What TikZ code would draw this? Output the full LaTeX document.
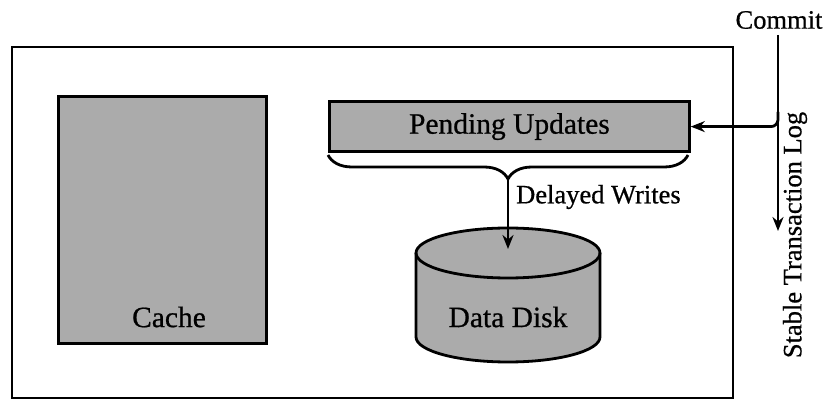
\documentclass[tikz,border=0pt]{standalone}
\usepackage{fontspec}
\setmainfont{Liberation Serif}[FakeBold=0.7]
\usetikzlibrary{arrows.meta,decorations.pathreplacing}
\begin{document}
\begin{tikzpicture}[x=1pt,y=1pt,
  font=\fontsize{26.5}{30}\selectfont,
  boxfont/.style={font=\fontsize{29.5}{33}\selectfont},
  shaded/.style={draw=black,line width=2.8pt,fill=black!33},
  conn/.style={line width=2.8pt},
  arr/.style={conn,-{Stealth[length=14pt,width=11pt]}},
  lbl/.style={inner sep=0pt}]
\useasboundingbox (0,0) rectangle (827,407);

% system frame
\draw[line width=2.4pt] (12,9) rectangle (733,360);

% cache
\node[shaded,minimum width=208,minimum height=247,anchor=south west] (cache) at (57,62) {};
\node[lbl,boxfont] (cachetxt) at (169,90) {Cache};

% pending updates
\node[shaded,minimum width=360,minimum height=50,anchor=south west] (pending) at (328,254) {};
\node[lbl,boxfont] (pendtxt) at (pending.center) {Pending Updates};

% brace under pending updates
\coordinate (bl) at (328,252);
\coordinate (bra) at (688,252);
\draw[conn,decorate,decoration={brace,mirror,amplitude=24pt,raise=0pt}] (bl) -- (bra);
\coordinate (tip) at (508,228);
\node[lbl,anchor=west] (dw) at (516,210) {Delayed Writes};

% data disk
\path[shaded] (416,154) -- (416,70) arc (180:360:92 and 25) -- (600,154) arc (0:180:92 and 25) -- cycle;
\draw[conn] (416,154) arc (180:360:92 and 25);
\node[lbl,boxfont] (disk) at (508,90) {Data Disk};
\coordinate (disktop) at (508,158);
\draw[arr] (tip) -- (disktop);

% commit and stable log
\node[lbl] (commit) at (779,387) {Commit};
\coordinate (ltop) at (778,372);
\coordinate (lbot) at (778,176);
\draw[arr] (ltop) -- (lbot);
\draw[arr,rounded corners=7pt] (778,295) |- (pending.east);
\node[lbl,rotate=90] (log) at (795,172) {Stable Transaction Log};
\end{tikzpicture}
\end{document}
